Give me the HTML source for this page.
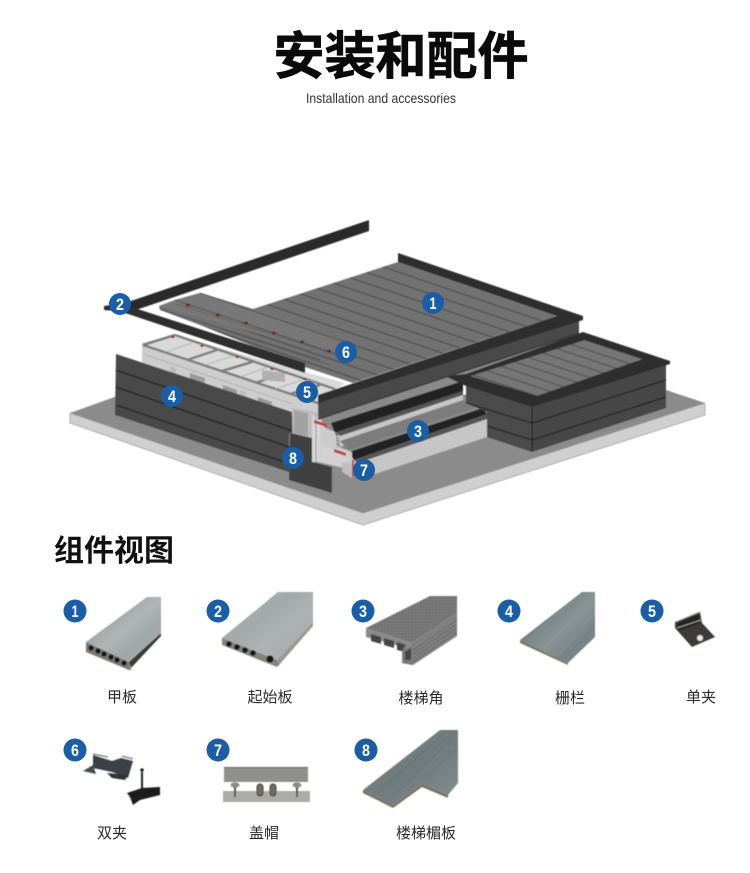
<!DOCTYPE html>
<html><head><meta charset="utf-8">
<style>
html,body{margin:0;padding:0;background:#fff;width:750px;height:873px;overflow:hidden}
svg{display:block}
.cjk{font-family:"Liberation Sans","Noto Sans CJK SC",sans-serif}
.lb{font-family:"Liberation Sans","Noto Sans CJK SC",sans-serif;font-size:15px;fill:#2a2a2a;text-anchor:middle}
.n{font-family:"Liberation Sans",sans-serif;font-weight:700;font-size:17px;fill:#fff;text-anchor:middle}
</style></head><body>
<svg width="750" height="873" viewBox="0 0 750 873" xmlns="http://www.w3.org/2000/svg">
<defs>
<filter id="b" x="-2%" y="-2%" width="104%" height="104%"><feGaussianBlur stdDeviation=".4"/></filter>
<pattern id="pd" patternUnits="userSpaceOnUse" width="40" height="11" patternTransform="translate(0,4) skewY(18.8)">
<rect width="40" height="11" fill="#727272"/><rect y="0" width="40" height=".9" fill="#3c3c3c"/></pattern>
<pattern id="ps" patternUnits="userSpaceOnUse" width="40" height="9" patternTransform="translate(0,2) skewY(18.3)">
<rect width="40" height="9" fill="#767676"/><rect y="0" width="40" height=".9" fill="#444"/></pattern>
<pattern id="dots" patternUnits="userSpaceOnUse" width="3" height="3"><rect width="3" height="3" fill="#7a7a7a"/><rect width="1.5" height="1.5" fill="#6a6a6a"/></pattern>
<linearGradient id="w1" x1="0" y1="0" x2="1" y2="1">
<stop offset="0" stop-color="#b4b9b9"/><stop offset=".3" stop-color="#9ea5a5"/><stop offset=".5" stop-color="#b0b5b5"/><stop offset=".7" stop-color="#a0a7a7"/><stop offset="1" stop-color="#acb1b1"/></linearGradient>
<linearGradient id="w2" x1="0" y1="0" x2="1" y2="1">
<stop offset="0" stop-color="#b4b8b8"/><stop offset=".4" stop-color="#a3a8a8"/><stop offset=".6" stop-color="#aeb2b2"/><stop offset="1" stop-color="#a4a9a9"/></linearGradient>
<linearGradient id="w4" x1="0" y1="0" x2="1" y2="1">
<stop offset="0" stop-color="#818c8e"/><stop offset=".35" stop-color="#758285"/><stop offset=".55" stop-color="#8b9494"/><stop offset=".75" stop-color="#768386"/><stop offset="1" stop-color="#838d8f"/></linearGradient>
<linearGradient id="w8" x1="0" y1="0" x2="1" y2="1">
<stop offset="0" stop-color="#828b8d"/><stop offset=".5" stop-color="#6f7a7d"/><stop offset="1" stop-color="#858e90"/></linearGradient>
</defs>

<!-- titles -->
<text x="401" y="74" class="cjk" font-size="51" font-weight="700" text-anchor="middle" fill="#0a0a0a" style="stroke:#0a0a0a;stroke-width:.7">安装和配件</text>
<text x="381" y="103" font-family="Liberation Sans" font-size="14" text-anchor="middle" fill="#333" textLength="150" lengthAdjust="spacingAndGlyphs">Installation and accessories</text>
<text x="54" y="561" class="cjk" font-size="30" font-weight="700" fill="#111">组件视图</text>

<g filter="url(#b)">
<!-- ground slab -->
<polygon points="70,413 70,423 363,525 705,415 705,403 363,513" fill="#cfcfcf" stroke="#8a8a8a" stroke-width=".6"/>
<polygon points="70,413 120,395 300,400 660,388 705,403 363,513" fill="#8b8b8b"/>

<!-- steps -->
<polygon points="318,405 579,325 579,345 463,384 463,403 487,412 487,437 375,474 352,462 335,440" fill="#8a8a8a"/>
<polygon points="338,434 463,392 463,405 380,432 340,447" fill="#c6c6c6"/>
<polygon points="331,423 463,381 463,391 335,433" fill="#222"/>
<polygon points="336,432 463,391 463,395 340,436" fill="#555"/>
<polygon points="345,457 487,417 487,437 375,474 361,472" fill="#c6c6c6"/>
<polygon points="349,452 483,408 487,414 354,460" fill="#222"/>
<polygon points="354,460 487,414 487,419 358,463" fill="#555"/>
<polygon points="340,441 463,400 480,406 349,450" fill="#7c7c7c"/>

<!-- small platform -->
<polygon points="466,385 532,406 532,452 487,437 487,412 466,403" fill="#4b4b4b"/>
<polygon points="532,406 666,363 666,408 532,452" fill="#464646"/>
<path d="M466,403L532,423L666,380M487,426L532,440L666,397M532,406V452" fill="none" stroke="#151515" stroke-width="1"/>
<polygon points="583,332 670,361 670,364 532,407 466,386 445,376 466,374" fill="#2d2d2d"/>
<polygon points="585,340 643,359 537,396 470,376" fill="url(#ps)"/>

<!-- frame: front face -->
<polygon points="142,343 318,402 318,425 142,365" fill="#cdcdcd"/>
<polygon points="142,343 175,335 305,372 345,383 318,402" fill="#d9d9d9"/>
<!-- frame details -->
<path d="M143,345L318,403M175,335L335,389M143,345L175,335M187,360L217,350M222,371L252,362M255,383L285,373M290,394L320,385" fill="none" stroke="#7d7d7d" stroke-width="2.5"/>
<path d="M165,352L192,343M205,365L233,356M240,377L268,367M275,389L305,379" fill="none" stroke="#aaa" stroke-width=".8"/>
<polygon points="262,370 285,373 285,382 262,380" fill="#b0b0b0"/>
<path d="M143,354L317,412" fill="none" stroke="#a8a8a8" stroke-width=".8"/>
<polygon points="190,373 205,378 205,384 190,379" fill="#9a9a9a"/>
<polygon points="223,385 237,390 237,396 223,391" fill="#999"/>
<polygon points="258,397 272,402 272,408 258,403" fill="#999"/>
<polygon points="170,366 176,368 176,374 170,372" fill="#bbb"/>
<polygon points="240,390 246,392 246,398 240,396" fill="#bbb"/>

<!-- wall 4 -->
<polygon points="116,354 292,412 292,432 289,434 289,472 115,415" fill="#4a4a4a"/>
<path d="M116,370L292,431M116,387L292,448M116,405L290,464" fill="none" stroke="#111" stroke-width="1"/>

<!-- column -->
<polygon points="292,404 318,404 318,462 352,470 352,452 336,446 335,432 325,428 318,412 312,438 293,433" fill="#cdcdcd"/>
<polygon points="292,408 317,412 317,462 312,462 312,438 293,433" fill="#bdbdbd"/>
<polygon points="294,410 308,413 308,436 294,433" fill="#a2a2a2"/>
<polygon points="312,415 320,416 320,462 312,462" fill="#d6d6d6"/>
<path d="M316,414V462" stroke="#888" stroke-width=".8"/>
<polygon points="320,430 338,436 338,450 322,458" fill="#cbcbcb"/>
<polygon points="321,446 347,452 347,468 321,462" fill="#d2d2d2"/>
<polygon points="342,462 352,464 352,478 342,472" fill="#bdbdbd"/>
<path d="M337,434V447" stroke="#333" stroke-width="1" stroke-dasharray="2 1"/>

<!-- panel 8 -->
<polygon points="290,433 312,438 312,462 332,467 332,493 289,480" fill="#404040"/>

<!-- red brackets -->
<polygon points="314,420 327,424 327,427 314,423" fill="#c73737"/>
<polygon points="334,449 346,453 346,456 334,452" fill="#c73737"/>
<rect x="352" y="460" width="2" height="16" fill="#c73737"/>

<!-- pins -->
<path d="M173,338v-2M202,347v-2M237,358v-2M272,370v-2M305,380v-2" stroke="#8a1a1e" stroke-width="3"/>

<!-- main deck -->
<polygon points="318,402 579,320 579,332 318,418" fill="#494949"/>
<polygon points="318,418 579,332 579,334 318,420" fill="#3a3a3a"/>
<polygon points="398,262 557,316 353,383 305,367 200,325 160,310 159,306 175,300 200,293 253,309" fill="url(#pd)"/>
<polygon points="159,306 175,300 200,293 253,309 360,346 338,356" fill="#787878"/>
<path d="M175,300L345,357M160,309L320,360M200,293L360,347" fill="none" stroke="#444" stroke-width=".9"/>
<path d="M161,309L330,365M176,304L340,356" fill="none" stroke="#5a5a5a" stroke-width="1.2" stroke-dasharray="1.5 1"/>
<path d="M186,305h4M216,315h4M244,323h4M272,333h4M300,342h4M327,351h4" stroke="#6e1a1e" stroke-width="2.5"/>
<polygon points="398,253 583,316 557,316 398,262" fill="#2d2d2d"/>
<polygon points="318,395 557,316 583,316 583,320 318,403" fill="#2d2d2d"/>

<!-- black rails -->
<polygon points="369,220 369,231 130,312 104,310 104,306 125,303" fill="#2b2b2b"/>
<polygon points="125,305 305,363 305,373 125,313" fill="#2e2e2e"/>
</g>

<!-- top badges -->
<g><circle cx="433" cy="303" r="11" fill="#1a5ea8"/><text x="433" y="309" class="n" textLength="7" lengthAdjust="spacingAndGlyphs">1</text>
<circle cx="120" cy="304" r="11" fill="#1a5ea8"/><text x="120" y="310" class="n" textLength="8" lengthAdjust="spacingAndGlyphs">2</text>
<circle cx="418" cy="431" r="11" fill="#1a5ea8"/><text x="418" y="437" class="n" textLength="8" lengthAdjust="spacingAndGlyphs">3</text>
<circle cx="172" cy="396" r="11" fill="#1a5ea8"/><text x="172" y="402" class="n" textLength="8" lengthAdjust="spacingAndGlyphs">4</text>
<circle cx="307" cy="392" r="11" fill="#1a5ea8"/><text x="307" y="398" class="n" textLength="8" lengthAdjust="spacingAndGlyphs">5</text>
<circle cx="346" cy="352" r="11" fill="#1a5ea8"/><text x="346" y="358" class="n" textLength="8" lengthAdjust="spacingAndGlyphs">6</text>
<circle cx="364" cy="470" r="11" fill="#1a5ea8"/><text x="364" y="476" class="n" textLength="8" lengthAdjust="spacingAndGlyphs">7</text>
<circle cx="293" cy="458" r="11" fill="#1a5ea8"/><text x="293" y="464" class="n" textLength="8" lengthAdjust="spacingAndGlyphs">8</text></g>

<g filter="url(#b)">
<!-- product 1 -->
<polygon points="147,597 161,597 161,633 129,662 86,642" fill="url(#w1)"/>
<polygon points="86,642 129,662 131,670 129,670 86,652" fill="#7a7870"/>
<polygon points="129,662 161,633 161,636 131,668" fill="#3a3a3a"/>
<g fill="#151515"><circle cx="91" cy="648" r="2.6"/><circle cx="98" cy="651" r="2.6"/><circle cx="104" cy="654" r="2.6"/><circle cx="111" cy="657" r="2.6"/><circle cx="117" cy="660" r="2.6"/><circle cx="124" cy="663" r="2.6"/></g>

<!-- product 2 -->
<polygon points="278,592 313,592 313,622 277,660 222,638" fill="url(#w2)"/>
<polygon points="222,638 277,660 280,664 277,667 222,645" fill="#85837a"/>
<polygon points="277,660 313,622 313,626 280,664" fill="#9a9a93"/>
<g fill="#151515"><circle cx="229" cy="644" r="2.8"/><circle cx="237" cy="647" r="2.8"/><circle cx="245" cy="650" r="2.8"/><circle cx="253" cy="653" r="2.8"/><circle cx="270" cy="659" r="3.6"/></g>

<!-- product 3 -->
<polygon points="430,596 457,596 457,613 412,643 366,628" fill="url(#dots)"/>
<polygon points="412,643 457,613 457,636 413,665 402,663 402,658" fill="#808080"/>
<polygon points="366,628 412,643 412,652 402,660 402,647 366,637" fill="#8a8a8a"/>
<polygon points="402,650 412,646 412,665 402,663" fill="#7a7a7a"/>
<path d="M413,650L457,620M413,654L457,624M413,658L457,628M413,662L457,632" stroke="#666" stroke-width=".8"/>
<g fill="#444"><polygon points="371,634 381,637 381,644 371,641"/><polygon points="384,638 394,641 394,648 384,645"/><polygon points="397,642 406,645 402,651 397,650"/><polygon points="405,652 411,648 411,660 405,660"/></g>

<!-- product 4 -->
<polygon points="582,592 595,592 595,637 568,663 520,640" fill="url(#w4)"/>
<polygon points="520,640 568,663 568,665 520,643" fill="#7a7568"/>
<path d="M575,599L528,640M588,600L545,648M595,612L558,656" stroke="#97a0a0" stroke-width=".6" fill="none" opacity=".6"/>

<!-- product 5 -->
<polygon points="675,622 700,612 702,623 715,637 692,647 675,628" fill="#3c3a38"/>
<polygon points="677,622 699,614 700,623 678,631" fill="#262424"/>
<path d="M676,622L700,612" stroke="#8f8f8f" stroke-width="1.2"/>
<path d="M677,628L701,620" stroke="#bbb" stroke-width=".8"/>
<circle cx="700" cy="638" r="3" fill="#e8e8e8"/>

<!-- product 6 -->
<polygon points="93,755 112,761 121,758 133,761 128,778 112,772 93,768" fill="#3b4246"/>
<polygon points="83,771 93,765 96,774" fill="#444b4f"/>
<polygon points="107,773 128,775 125,780 112,778" fill="#2f3437"/>
<path d="M93,754L108,757M122,756L133,759" stroke="#8a9090" stroke-width="1.5"/>
<rect x="141" y="772" width="2" height="18" fill="#222"/>
<circle cx="142" cy="770" r="1.8" fill="#222"/>
<polygon points="127,793 142,788 160,787 160,795 140,800 133,805 130,797" fill="#1c1c1c"/>

<!-- product 7 -->
<rect x="224" y="767" width="84" height="15" fill="#8f8f8b"/>
<rect x="224" y="767" width="84" height="1" fill="#666"/>
<rect x="223" y="791" width="87" height="11" fill="#acaca7"/>
<g fill="#8c8d85"><ellipse cx="235" cy="785" rx="4.5" ry="2.6"/><ellipse cx="297" cy="785" rx="4.5" ry="2.6"/></g>
<path d="M235,787V797M297,787V797" stroke="#555" stroke-width="2"/>
<g fill="#6f6d63" stroke="#3e3d37"><rect x="257" y="784" width="6" height="12" rx="3"/><rect x="270" y="784" width="6" height="12" rx="3"/></g>

<!-- product 8 -->
<polygon points="440,730 458,730 458,783 448,795 422,784 393,805 363,790" fill="url(#w8)"/>
<polygon points="363,790 393,805 422,784 448,795 448,798 422,787 393,808 363,793" fill="#7a7261"/>
<path d="M445,733L380,790M452,738L395,795M458,748L425,778" stroke="#5f696c" stroke-width=".6" fill="none" opacity=".7"/>
</g>

<!-- lower badges -->
<g><circle cx="75" cy="611" r="11.5" fill="#1a5ea8"/><text x="75" y="617" class="n" textLength="7" lengthAdjust="spacingAndGlyphs">1</text>
<circle cx="218" cy="611" r="11.5" fill="#1a5ea8"/><text x="218" y="617" class="n" textLength="8" lengthAdjust="spacingAndGlyphs">2</text>
<circle cx="363" cy="611" r="11.5" fill="#1a5ea8"/><text x="363" y="617" class="n" textLength="8" lengthAdjust="spacingAndGlyphs">3</text>
<circle cx="509" cy="611" r="11.5" fill="#1a5ea8"/><text x="509" y="617" class="n" textLength="8" lengthAdjust="spacingAndGlyphs">4</text>
<circle cx="652" cy="611" r="11.5" fill="#1a5ea8"/><text x="652" y="617" class="n" textLength="8" lengthAdjust="spacingAndGlyphs">5</text>
<circle cx="75" cy="750" r="11.5" fill="#1a5ea8"/><text x="75" y="756" class="n" textLength="8" lengthAdjust="spacingAndGlyphs">6</text>
<circle cx="218" cy="750" r="11.5" fill="#1a5ea8"/><text x="218" y="756" class="n" textLength="8" lengthAdjust="spacingAndGlyphs">7</text>
<circle cx="366" cy="750" r="11.5" fill="#1a5ea8"/><text x="366" y="756" class="n" textLength="8" lengthAdjust="spacingAndGlyphs">8</text></g>

<!-- labels -->
<text x="122" y="702" class="lb">甲板</text>
<text x="270" y="702" class="lb">起始板</text>
<text x="421" y="703" class="lb">楼梯角</text>
<text x="570" y="703" class="lb">栅栏</text>
<text x="701" y="702" class="lb">单夹</text>
<text x="112" y="838" class="lb">双夹</text>
<text x="264" y="838" class="lb">盖帽</text>
<text x="426" y="838" class="lb">楼梯楣板</text>
</svg>
</body></html>
